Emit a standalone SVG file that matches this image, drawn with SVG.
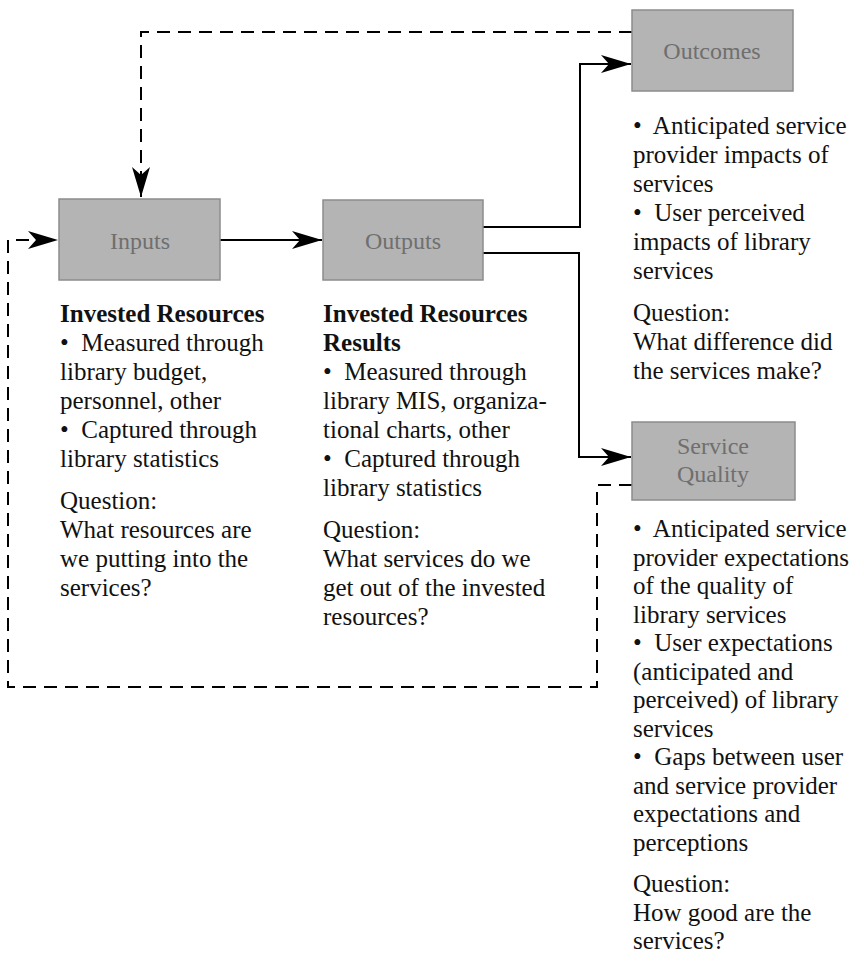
<svg xmlns="http://www.w3.org/2000/svg" width="864" height="967" viewBox="0 0 864 967">
<defs>
<marker id="ah" markerUnits="userSpaceOnUse" markerWidth="32" markerHeight="20" refX="30" refY="9" orient="auto">
<path d="M0,0 L30,9 L0,18 L8,9 Z" fill="#000"/>
</marker>
<style>
.box{fill:#b4b4b4;stroke:#8c8c8c;stroke-width:1.5}
.lbl{font-family:"Liberation Serif","Times New Roman",serif;font-size:24px;fill:#6f6f6f;text-anchor:middle}
.t{font-family:"Liberation Serif","Times New Roman",serif;font-size:25px;fill:#111;white-space:pre}
.b{font-weight:bold}
.solid{fill:none;stroke:#000;stroke-width:2}
.dash{fill:none;stroke:#000;stroke-width:2;stroke-dasharray:13 8}
</style>
</defs>
<rect width="864" height="967" fill="#fff"/>
<g id="connectors">
<path class="dash" d="M632,32 H141 V197" marker-end="url(#ah)"/>
<path class="dash" d="M632,485 H597 V687 H8 V240 H58" marker-end="url(#ah)"/>
<path class="solid" d="M220,240 H322" marker-end="url(#ah)"/>
<path class="solid" d="M483,227 H580 V64 H631" marker-end="url(#ah)"/>
<path class="solid" d="M483,253 H579 V457 H631" marker-end="url(#ah)"/>
</g>
<g id="inputs">
<rect class="box" x="59" y="199" width="161" height="81"/>
<text class="lbl" x="140" y="249">Inputs</text>
<text class="t"><tspan class="b" x="60" y="322">Invested Resources</tspan><tspan x="60" y="351">•  Measured through</tspan><tspan x="60" y="380">library budget,</tspan><tspan x="60" y="409">personnel, other</tspan><tspan x="60" y="438">•  Captured through</tspan><tspan x="60" y="467">library statistics</tspan><tspan x="60" y="509">Question:</tspan><tspan x="60" y="538">What resources are</tspan><tspan x="60" y="567">we putting into the</tspan><tspan x="60" y="596">services?</tspan></text>
</g>
<g id="outputs">
<rect class="box" x="323" y="200" width="160" height="80"/>
<text class="lbl" x="403" y="249">Outputs</text>
<text class="t"><tspan class="b" x="323" y="322">Invested Resources</tspan><tspan class="b" x="323" y="351">Results</tspan><tspan x="323" y="380">•  Measured through</tspan><tspan x="323" y="409">library MIS, organiza-</tspan><tspan x="323" y="438">tional charts, other</tspan><tspan x="323" y="467">•  Captured through</tspan><tspan x="323" y="496">library statistics</tspan><tspan x="323" y="538">Question:</tspan><tspan x="323" y="567">What services do we</tspan><tspan x="323" y="596">get out of the invested</tspan><tspan x="323" y="625">resources?</tspan></text>
</g>
<g id="outcomes">
<rect class="box" x="632" y="10" width="161" height="81"/>
<text class="lbl" x="712" y="59">Outcomes</text>
<text class="t"><tspan x="633" y="134">•  Anticipated service</tspan><tspan x="633" y="163">provider impacts of</tspan><tspan x="633" y="192">services</tspan><tspan x="633" y="221">•  User perceived</tspan><tspan x="633" y="250">impacts of library</tspan><tspan x="633" y="279">services</tspan><tspan x="633" y="321">Question:</tspan><tspan x="633" y="350">What difference did</tspan><tspan x="633" y="379">the services make?</tspan></text>
</g>
<g id="service-quality">
<rect class="box" x="632" y="422" width="163" height="78"/>
<text class="lbl" x="713" y="454">Service</text>
<text class="lbl" x="713" y="482">Quality</text>
<text class="t"><tspan x="633" y="537">•  Anticipated service</tspan><tspan x="633" y="565.5">provider expectations</tspan><tspan x="633" y="594">of the quality of</tspan><tspan x="633" y="622.5">library services</tspan><tspan x="633" y="651">•  User expectations</tspan><tspan x="633" y="679.5">(anticipated and</tspan><tspan x="633" y="708">perceived) of library</tspan><tspan x="633" y="736.5">services</tspan><tspan x="633" y="765">•  Gaps between user</tspan><tspan x="633" y="793.5">and service provider</tspan><tspan x="633" y="822">expectations and</tspan><tspan x="633" y="850.5">perceptions</tspan><tspan x="633" y="892">Question:</tspan><tspan x="633" y="920.5">How good are the</tspan><tspan x="633" y="949">services?</tspan></text>
</g>
</svg>
